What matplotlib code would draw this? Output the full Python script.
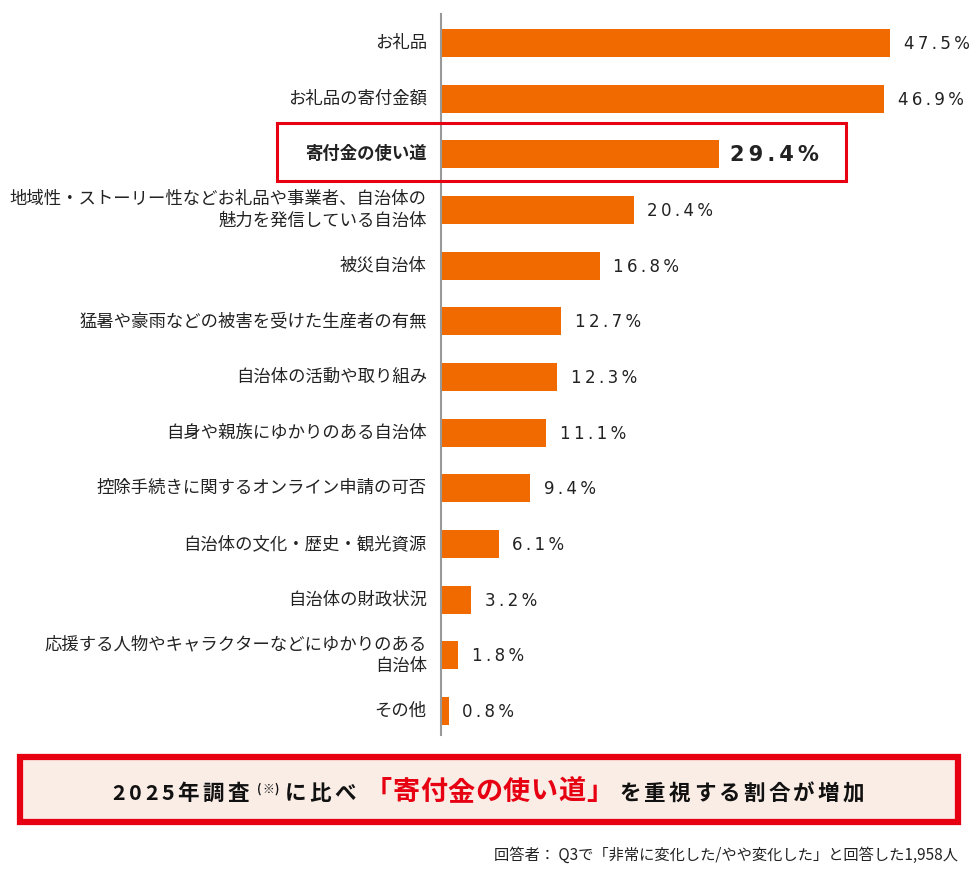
import matplotlib
matplotlib.use("Agg")
from matplotlib import pyplot as plt
from matplotlib.patches import Rectangle
import numpy as np

plt.rcParams['font.family'] = ['Noto Sans CJK JP', 'DejaVu Sans']

labels = ["お礼品", "お礼品の寄付金額", "寄付金の使い道",
          "地域性・ストーリー性などお礼品や事業者、自治体の\n魅力を発信している自治体",
          "被災自治体", "猛暑や豪雨などの被害を受けた生産者の有無",
          "自治体の活動や取り組み", "自身や親族にゆかりのある自治体",
          "控除手続きに関するオンライン申請の可否", "自治体の文化・歴史・観光資源",
          "自治体の財政状況", "応援する人物やキャラクターなどにゆかりのある\n自治体", "その他"]
values = [47.5, 46.9, 29.4, 20.4, 16.8, 12.7, 12.3, 11.1, 9.4, 6.1, 3.2, 1.8, 0.8]
highlight = 2

orange = "#f06a00"
red = "#e60012"
TS = "\u2009"  # thin space for letter spacing

fig = plt.figure(figsize=(9.8, 8.77), dpi=100)
W, H = 980, 877
ax = fig.add_axes([441 / W, 1 - 735 / H, (W - 441) / W, (735 - 14) / H])
y = np.arange(len(values))
ax.barh(y, values, height=0.5, color=orange)
ax.set_xlim(0, (W - 441) / 9.45)
ax.set_ylim(12 + 24 / 55.67, -29 / 55.67)
for s in ["top", "right", "bottom"]:
    ax.spines[s].set_visible(False)
ax.spines["left"].set_color("#999999")
ax.spines["left"].set_linewidth(1.5)
ax.set_xticks([])
ax.set_yticks([])

for i, (lab, v) in enumerate(zip(labels, values)):
    bold = i == highlight
    ax.text(-1.5, i, lab, ha="right", va="center", fontsize=12.5,
            fontweight="bold" if bold else "normal", color="#222222",
            linespacing=1.25)
    txt = TS.join("{:.1f}%".format(v))
    ax.text(v + (1.2 if bold else 1.45), i + 0.02, txt, ha="left", va="center",
            fontsize=15 if bold else 12, fontweight="bold" if bold else "normal",
            family=["DejaVu Sans"], color="#222222")

# red frame around highlighted row
fig.patches.append(Rectangle((277 / W, 1 - 181 / H), (846 - 277) / W, 58 / H,
                             transform=fig.transFigure, fill=False,
                             edgecolor=red, linewidth=2.2))

# bottom message box
fig.patches.append(Rectangle((20 / W, 1 - 822 / H), (958 - 20) / W, (822 - 757) / H,
                             transform=fig.transFigure, facecolor="#f9ede6",
                             edgecolor=red, linewidth=4.5))

# (text, size, colour, tracking px, gap before px, raise px)
parts = [("2025年調査", 15.5, "#111111", 3.5, 0, 0),
         ("(※)", 8.5, "#111111", 0.5, 5, 7),
         ("に比べ", 15.5, "#111111", 3.0, 6, 0),
         ("「寄付金の使い道」", 19.5, red, 0.5, 6, 0),
         ("を重視する割合が増加", 15.5, "#111111", 3.3, 6, 0)]
renderer = fig.canvas.get_renderer()
placed = []
x = 0
for s, fs, c, tr, gap, dy in parts:
    x += gap
    for ch in s:
        t = fig.text(0, 0, ch, fontsize=fs, color=c, fontweight="bold", va="baseline")
        w = t.get_window_extent(renderer).width
        placed.append((t, x, dy))
        x += w + tr
x0 = 490 - x / 2
for t, off, dy in placed:
    t.set_position(((x0 + off) / W, 1 - (800 - dy) / H))

fig.text(958 / W, 1 - 855 / H, "回答者： Q3で「非常に変化した/やや変化した」と回答した1,958人",
         ha="right", va="center", fontsize=11, color="#222222")

fig.savefig("out.png", dpi=100, facecolor="white")
